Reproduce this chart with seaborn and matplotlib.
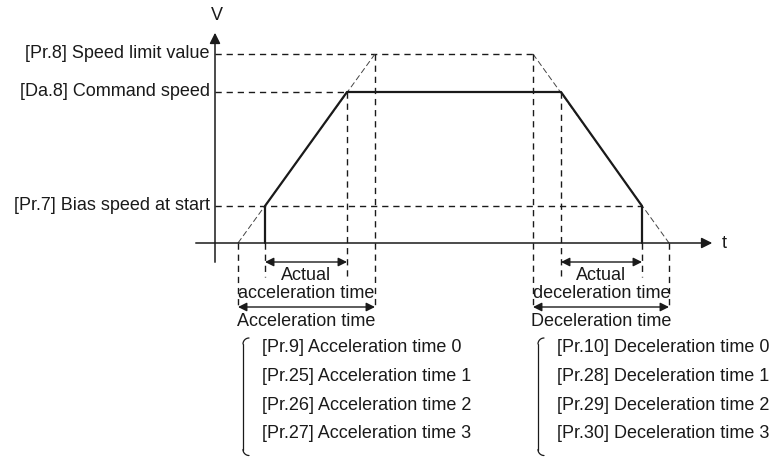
import numpy as np
import pandas as pd
import matplotlib
matplotlib.use("Agg")
import matplotlib.pyplot as plt
import seaborn as sns

# speed levels (arbitrary units, origin at the axes crossing)
speed_names = ["[Pr.8] Speed limit value", "[Da.8] Command speed", "[Pr.7] Bias speed at start"]
speed_limit = 189
command_speed = 151
bias_speed = 37

# time points (arbitrary units)
acc_ghost_start = 23     # ramp from 0 with speed limit slope
acc_start = 50           # actual start at bias speed
acc_end = 132            # command speed reached
acc_limit = 160          # speed limit reached on ghost ramp
dec_limit = 318          # ghost ramp leaves speed limit
dec_start = 346          # actual deceleration start
dec_end = 427            # bias speed reached, stop
dec_ghost_end = 454      # ghost ramp reaches 0

acc_list = ["[Pr.9] Acceleration time 0", "[Pr.25] Acceleration time 1",
            "[Pr.26] Acceleration time 2", "[Pr.27] Acceleration time 3"]
dec_list = ["[Pr.10] Deceleration time 0", "[Pr.28] Deceleration time 1",
            "[Pr.29] Deceleration time 2", "[Pr.30] Deceleration time 3"]

sns.set_style("white")
plt.rcParams['font.family'] = ['Liberation Sans', 'DejaVu Sans']
FS = 13
INK = "#1a1a1a"

fig = plt.figure(figsize=(7.78, 4.57), dpi=100)
ax = fig.add_axes([0, 0, 1, 1])
ax.set_xlim(-215, 563)
ax.set_ylim(-214, 243)
ax.axis("off")

# axes with arrows
ax.annotate("", xy=(0, 213), xytext=(0, -22),
            arrowprops=dict(arrowstyle="-|>", color=INK, lw=1.1, mutation_scale=16))
ax.annotate("", xy=(500, 0), xytext=(-22, 0),
            arrowprops=dict(arrowstyle="-|>", color=INK, lw=1.1, mutation_scale=16))
ax.text(2, 227, "V", fontsize=FS, ha="center", va="center", color=INK)
ax.text(507, 0, "t", fontsize=FS, ha="left", va="center", color=INK)

# speed labels
for name, v in zip(speed_names, [speed_limit, command_speed, bias_speed]):
    ax.text(-5, v, name, fontsize=FS, ha="right", va="center", color=INK)

dash = dict(color=INK, lw=1.0, linestyle=(0, (4.5, 3.5)))
thin = dict(color="#444444", lw=0.7, linestyle=(0, (6, 3)))

# horizontal dashed guides
ax.plot([0, dec_limit], [speed_limit, speed_limit], **dash)
ax.plot([0, acc_end], [command_speed, command_speed], **dash)
ax.plot([0, dec_end], [bias_speed, bias_speed], **dash)

# ghost ramps at speed-limit slope
ax.plot([acc_ghost_start, acc_limit], [0, speed_limit], **thin)
ax.plot([dec_limit, dec_ghost_end], [speed_limit, 0], **thin)

# vertical dashed guides
lvl_actual = -34
lvl_full = -64
ax.plot([acc_ghost_start, acc_ghost_start], [0, lvl_full], **dash)
ax.plot([acc_start, acc_start], [0, lvl_actual], **dash)
ax.plot([acc_end, acc_end], [command_speed, lvl_actual], **dash)
ax.plot([acc_limit, acc_limit], [speed_limit, lvl_full], **dash)
ax.plot([dec_limit, dec_limit], [speed_limit, lvl_full], **dash)
ax.plot([dec_start, dec_start], [command_speed, lvl_actual], **dash)
ax.plot([dec_end, dec_end], [0, lvl_actual], **dash)
ax.plot([dec_ghost_end, dec_ghost_end], [0, lvl_full], **dash)

# actual speed profile
profile = pd.DataFrame({
    "t": [acc_start, acc_start, acc_end, dec_start, dec_end, dec_end],
    "v": [0, bias_speed, command_speed, command_speed, bias_speed, 0],
})
sns.lineplot(data=profile, x="t", y="v", sort=False, estimator=None, ax=ax,
             color=INK, lw=1.6)
ax.set_xlabel("")
ax.set_ylabel("")

# time arrows
arr = dict(arrowstyle="<|-|>", color=INK, lw=1.0, mutation_scale=13, shrinkA=0, shrinkB=0)
for a, b in [(acc_start, acc_end), (dec_start, dec_end)]:
    ax.annotate("", xy=(a, -19), xytext=(b, -19), arrowprops=arr)
    ax.text((a + b) / 2, -32, "Actual", fontsize=FS, ha="center", va="center", color=INK)
for a, b in [(acc_ghost_start, acc_limit), (dec_limit, dec_ghost_end)]:
    ax.annotate("", xy=(a, lvl_full), xytext=(b, lvl_full), arrowprops=arr)

acc_c = (acc_start + acc_end) / 2
dec_c = (dec_start + dec_end) / 2
ax.text(acc_c, -50, "acceleration time", fontsize=FS, ha="center", va="center", color=INK)
ax.text(acc_c, -78, "Acceleration time", fontsize=FS, ha="center", va="center", color=INK)
ax.text(dec_c, -50, "deceleration time", fontsize=FS, ha="center", va="center", color=INK)
ax.text(dec_c, -78, "Deceleration time", fontsize=FS, ha="center", va="center", color=INK)

# parameter lists with left brackets
rows = -105 - 28.5 * np.arange(4)
th = np.linspace(0, np.pi / 2, 12)
for x0, items in [(acc_start - 3, acc_list), (dec_start - 4, dec_list)]:
    for r, s in zip(rows, items):
        ax.text(x0, r, s, fontsize=FS, ha="left", va="center", color=INK)
    bx = x0 - 19
    top, bot = rows[0] + 10, rows[-1] - 22
    curl_x = bx + 6 * (1 - np.sin(th))
    ax.plot(curl_x, top - 6 * (1 - np.cos(th)), color=INK, lw=0.9)
    ax.plot([bx, bx], [top - 6, bot + 6], color=INK, lw=0.9)
    ax.plot(curl_x, bot + 6 * (1 - np.cos(th)), color=INK, lw=0.9)

fig.savefig("out.png", dpi=100)
